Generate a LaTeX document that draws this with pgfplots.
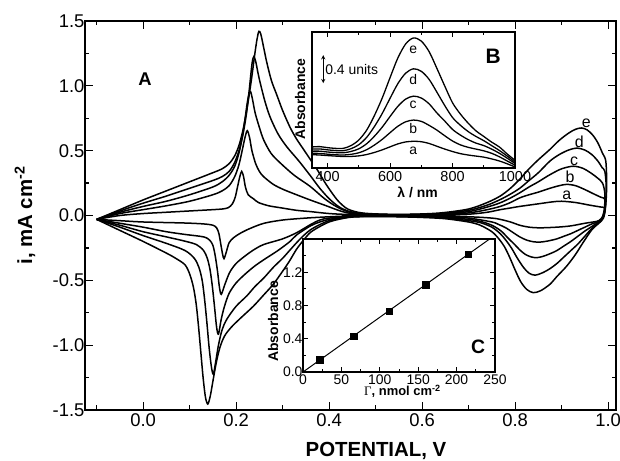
\documentclass[border=0pt]{standalone}
\usepackage{fontspec}
\setmainfont{Liberation Sans}
\newfontfamily\serifgreek{Liberation Serif}
\usepackage{pgfplots}
\usepackage{pgfplotstable}
\pgfplotsset{compat=1.18}
\pgfplotsset{
  cv/.style={black, line width=1.5bp, smooth, tension=0.5, mark=none},
  spec/.style={black, line width=1.3bp, smooth, mark=none},
}

% inset B: absorbance spectra
\pgfplotstableread{
lam e d c b a
350 0.300 0.270 0.240 0.210 0.190
375 0.305 0.272 0.240 0.207 0.185
400 0.290 0.259 0.228 0.197 0.177
425 0.280 0.249 0.220 0.189 0.170
450 0.280 0.247 0.217 0.185 0.164
475 0.320 0.275 0.236 0.195 0.165
500 0.400 0.333 0.274 0.217 0.173
525 0.540 0.437 0.346 0.261 0.192
550 0.750 0.593 0.454 0.328 0.222
575 1.000 0.779 0.584 0.409 0.259
600 1.290 0.995 0.735 0.504 0.302
625 1.570 1.204 0.880 0.596 0.344
650 1.770 1.353 0.983 0.659 0.372
675 1.855 1.415 1.025 0.684 0.381
700 1.810 1.379 0.998 0.665 0.375
725 1.660 1.264 0.915 0.608 0.350
750 1.420 1.081 0.785 0.540 0.310
775 1.170 0.891 0.670 0.460 0.270
800 0.930 0.720 0.550 0.385 0.235
825 0.770 0.610 0.470 0.330 0.205
850 0.640 0.520 0.405 0.295 0.185
875 0.530 0.450 0.355 0.270 0.170
900 0.450 0.390 0.320 0.245 0.155
925 0.370 0.320 0.270 0.210 0.130
950 0.300 0.250 0.210 0.160 0.100
975 0.200 0.170 0.140 0.100 0.060
1000 0.110 0.085 0.065 0.040 0.015
}\spectra

\begin{document}
\begin{tikzpicture}
\useasboundingbox (-85bp,-51bp) rectangle (535bp,410bp);

% main axis: cyclic voltammograms
\begin{axis}[
  at={(0bp,0bp)}, anchor=south west,
  scale only axis, width=531bp, height=389bp,
  xmin=-0.125, xmax=1.017, ymin=-1.5, ymax=1.5,
  xtick={0,0.2,0.4,0.6,0.8,1.0}, minor xtick={-0.1,0.1,0.3,0.5,0.7,0.9},
  ytick={-1.5,-1,-0.5,0,0.5,1,1.5}, minor ytick={-1.25,-0.75,-0.25,0.25,0.75,1.25},
  tick align=inside, major tick length=8bp, minor tick length=4.5bp,
  every tick/.style={black, line width=1.2bp},
  axis line style={line width=1.7bp},
  tick label style={font=\fontsize{18.5}{20}\selectfont},
  yticklabel style={xshift=3bp},
  /pgf/number format/fixed, /pgf/number format/fixed zerofill,
  /pgf/number format/precision=1, /pgf/number format/assume math mode=true,
  clip mode=individual,
]
% e
\addplot[cv] coordinates {
(-0.1,-0.03) (-0.05,0.045) (0,0.12) (0.05,0.19) (0.1,0.26) (0.15,0.33) (0.17,0.36)
(0.185,0.40) (0.197,0.46) (0.207,0.55) (0.216,0.68) (0.225,0.86) (0.233,1.05) (0.24,1.24)
(0.245,1.36) (0.249,1.42) (0.253,1.40) (0.259,1.30) (0.266,1.18) (0.276,1.04) (0.2875,0.93)
(0.30,0.81) (0.316,0.68) (0.33,0.59) (0.345,0.51) (0.36,0.43) (0.375,0.35) (0.39,0.26)
(0.405,0.18) (0.42,0.11) (0.44,0.05) (0.47,0.02) (0.52,0.01) (0.58,0.01) (0.64,0.02)
(0.70,0.05) (0.74,0.10) (0.768,0.15) (0.79,0.21) (0.81,0.28) (0.83,0.36) (0.85,0.43)
(0.875,0.51) (0.895,0.58) (0.915,0.635) (0.93,0.665) (0.943,0.675) (0.955,0.66) (0.967,0.62)
(0.978,0.56) (0.988,0.48) (0.995,0.42) (0.997,0.25) (0.995,0.08) (0.99,-0.02) (0.98,-0.06)
(0.965,-0.11) (0.946,-0.21) (0.93,-0.30) (0.911,-0.39) (0.89,-0.47) (0.875,-0.53) (0.855,-0.58)
(0.839,-0.595) (0.825,-0.57) (0.812,-0.51) (0.80,-0.42) (0.788,-0.32) (0.777,-0.24) (0.765,-0.18)
(0.75,-0.125) (0.725,-0.075) (0.70,-0.05) (0.65,-0.025) (0.60,-0.015) (0.55,-0.01) (0.50,-0.008)
(0.45,-0.012) (0.42,-0.03) (0.40,-0.05) (0.38,-0.085) (0.36,-0.13) (0.345,-0.19) (0.33,-0.26)
(0.315,-0.35) (0.30,-0.43) (0.28,-0.53) (0.26,-0.61) (0.237,-0.70) (0.21,-0.79) (0.19,-0.86)
(0.175,-0.93) (0.165,-1.02) (0.157,-1.14) (0.15,-1.28) (0.144,-1.40) (0.139,-1.454) (0.134,-1.40)
(0.129,-1.25) (0.124,-1.05) (0.119,-0.85) (0.114,-0.68) (0.108,-0.55) (0.10,-0.45) (0.09,-0.38)
(0.07,-0.33) (0.05,-0.29) (0,-0.20) (-0.05,-0.115) (-0.1,-0.03)};
% d
\addplot[cv] coordinates {
(-0.1,-0.03) (-0.05,0.035) (0,0.095) (0.05,0.15) (0.1,0.21) (0.15,0.27) (0.17,0.30)
(0.185,0.34) (0.197,0.41) (0.207,0.51) (0.215,0.63) (0.222,0.78) (0.228,0.96) (0.232,1.10)
(0.235,1.19) (0.238,1.225) (0.242,1.19) (0.247,1.10) (0.252,1.02) (0.262,0.88) (0.273,0.76)
(0.29,0.63) (0.309,0.53) (0.335,0.42) (0.359,0.31) (0.38,0.21) (0.40,0.13) (0.42,0.07)
(0.44,0.035) (0.47,0.015) (0.52,0.008) (0.58,0.008) (0.64,0.015) (0.70,0.04) (0.74,0.08)
(0.768,0.123) (0.79,0.165) (0.81,0.21) (0.83,0.27) (0.85,0.33) (0.875,0.42) (0.895,0.47)
(0.915,0.505) (0.933,0.52) (0.95,0.505) (0.965,0.47) (0.978,0.42) (0.987,0.37) (0.993,0.34)
(0.996,0.22) (0.994,0.07) (0.989,-0.02) (0.978,-0.06)
(0.965,-0.10) (0.95,-0.16) (0.935,-0.22) (0.92,-0.27) (0.905,-0.32) (0.89,-0.37) (0.875,-0.41)
(0.86,-0.44) (0.843,-0.46) (0.83,-0.445) (0.818,-0.40) (0.805,-0.33) (0.792,-0.25) (0.78,-0.19)
(0.768,-0.14) (0.75,-0.09) (0.725,-0.055) (0.70,-0.04) (0.65,-0.02) (0.60,-0.01) (0.55,-0.008)
(0.50,-0.006) (0.45,-0.01) (0.42,-0.025) (0.40,-0.04) (0.38,-0.07) (0.36,-0.11) (0.345,-0.155)
(0.33,-0.21) (0.315,-0.27) (0.30,-0.33) (0.28,-0.40) (0.26,-0.48) (0.24,-0.55) (0.223,-0.62)
(0.20,-0.70) (0.18,-0.80) (0.17,-0.88) (0.162,-1.0) (0.156,-1.13) (0.151,-1.223) (0.147,-1.17)
(0.142,-1.02) (0.137,-0.82) (0.132,-0.64) (0.127,-0.50) (0.12,-0.40) (0.11,-0.33) (0.09,-0.27)
(0.05,-0.215) (0,-0.155) (-0.05,-0.09) (-0.1,-0.03)};
% c
\addplot[cv] coordinates {
(-0.1,-0.03) (-0.05,0.025) (0,0.07) (0.05,0.11) (0.1,0.16) (0.15,0.22) (0.17,0.26)
(0.185,0.31) (0.197,0.38) (0.206,0.48) (0.213,0.60) (0.219,0.74) (0.224,0.87) (0.228,0.94)
(0.231,0.956) (0.235,0.90) (0.241,0.79) (0.25,0.68) (0.259,0.585) (0.275,0.48) (0.295,0.405)
(0.325,0.31) (0.359,0.225) (0.39,0.13) (0.415,0.07) (0.44,0.03) (0.47,0.012) (0.52,0.006)
(0.58,0.006) (0.64,0.012) (0.70,0.03) (0.74,0.065) (0.768,0.098) (0.79,0.135) (0.81,0.175)
(0.83,0.22) (0.85,0.26) (0.875,0.315) (0.90,0.36) (0.925,0.38) (0.945,0.365) (0.962,0.33)
(0.977,0.29) (0.988,0.25) (0.993,0.17) (0.992,0.05) (0.987,-0.02) (0.977,-0.055)
(0.965,-0.085) (0.95,-0.12) (0.935,-0.16) (0.92,-0.20) (0.905,-0.235) (0.89,-0.27) (0.875,-0.295)
(0.86,-0.315) (0.847,-0.325) (0.835,-0.32) (0.822,-0.30) (0.81,-0.265) (0.798,-0.22) (0.785,-0.175)
(0.77,-0.12) (0.75,-0.075) (0.725,-0.045) (0.70,-0.03) (0.65,-0.015) (0.60,-0.008) (0.55,-0.006)
(0.50,-0.005) (0.45,-0.008) (0.42,-0.02) (0.40,-0.03) (0.38,-0.05) (0.36,-0.08) (0.33,-0.15)
(0.316,-0.20) (0.29,-0.27) (0.26,-0.34) (0.24,-0.39) (0.22,-0.45) (0.20,-0.52) (0.185,-0.60)
(0.175,-0.70) (0.168,-0.80) (0.162,-0.915) (0.158,-0.86) (0.154,-0.72) (0.149,-0.55) (0.144,-0.42)
(0.138,-0.33) (0.13,-0.27) (0.115,-0.225) (0.09,-0.198) (0.05,-0.165) (0,-0.125) (-0.05,-0.075)
(-0.1,-0.03)};
% b
\addplot[cv] coordinates {
(-0.1,-0.03) (-0.05,0.015) (0,0.045) (0.05,0.075) (0.1,0.11) (0.15,0.16) (0.17,0.19)
(0.185,0.23) (0.197,0.30) (0.206,0.39) (0.213,0.50) (0.219,0.60) (0.224,0.654) (0.229,0.60)
(0.234,0.50) (0.242,0.40) (0.25,0.34) (0.259,0.30) (0.28,0.24) (0.302,0.20) (0.33,0.16)
(0.359,0.12) (0.39,0.08) (0.42,0.04) (0.44,0.02) (0.47,0.008) (0.52,0.004) (0.58,0.004)
(0.64,0.008) (0.70,0.02) (0.74,0.045) (0.768,0.07) (0.79,0.10) (0.81,0.136) (0.83,0.16)
(0.85,0.18) (0.875,0.21) (0.895,0.23) (0.911,0.24) (0.93,0.23) (0.95,0.20) (0.97,0.165)
(0.985,0.14) (0.992,0.13) (0.994,0.08) (0.99,0.01) (0.985,-0.025) (0.976,-0.05)
(0.965,-0.065) (0.95,-0.09) (0.935,-0.115) (0.92,-0.14) (0.905,-0.16) (0.89,-0.18) (0.87,-0.197)
(0.854,-0.205) (0.84,-0.203) (0.825,-0.19) (0.81,-0.165) (0.795,-0.13) (0.78,-0.095) (0.765,-0.07)
(0.75,-0.05) (0.70,-0.02) (0.65,-0.01) (0.60,-0.005) (0.50,-0.004) (0.45,-0.006) (0.40,-0.02)
(0.38,-0.035) (0.36,-0.07) (0.33,-0.133) (0.30,-0.18) (0.26,-0.223) (0.24,-0.26) (0.22,-0.31)
(0.20,-0.37) (0.186,-0.44) (0.176,-0.53) (0.168,-0.608) (0.164,-0.55) (0.16,-0.43) (0.155,-0.31)
(0.15,-0.23) (0.143,-0.19) (0.13,-0.165) (0.09,-0.146) (0.05,-0.125) (0,-0.09) (-0.05,-0.06)
(-0.1,-0.03)};
% a
\addplot[cv] coordinates {
(-0.1,-0.03) (-0.05,0.0) (0,0.015) (0.05,0.025) (0.1,0.035) (0.15,0.045) (0.17,0.05)
(0.183,0.06) (0.192,0.09) (0.198,0.14) (0.203,0.22) (0.208,0.30) (0.212,0.34) (0.216,0.30)
(0.22,0.22) (0.226,0.16) (0.237,0.13) (0.248,0.10) (0.27,0.075) (0.295,0.06) (0.33,0.04)
(0.36,0.03) (0.40,0.015) (0.44,0.008) (0.50,0.003) (0.58,0.003) (0.64,0.005) (0.70,0.01)
(0.74,0.025) (0.768,0.045) (0.79,0.058) (0.81,0.07) (0.85,0.09) (0.88,0.105) (0.90,0.11)
(0.93,0.10) (0.96,0.08) (0.985,0.065) (0.992,0.06) (0.993,0.03) (0.99,-0.01) (0.985,-0.03)
(0.976,-0.045) (0.95,-0.06) (0.92,-0.08) (0.89,-0.09) (0.854,-0.095) (0.83,-0.09) (0.81,-0.075)
(0.79,-0.05) (0.768,-0.03) (0.75,-0.02) (0.70,-0.01) (0.60,-0.004) (0.50,-0.003) (0.45,-0.003)
(0.40,-0.01) (0.35,-0.02) (0.30,-0.035) (0.26,-0.06) (0.23,-0.10) (0.21,-0.135) (0.195,-0.17)
(0.185,-0.21) (0.179,-0.28) (0.174,-0.333) (0.171,-0.30) (0.167,-0.22) (0.163,-0.14) (0.158,-0.095)
(0.15,-0.075) (0.13,-0.065) (0.09,-0.058) (0,-0.05) (-0.05,-0.04) (-0.1,-0.03)};

\node[font=\bfseries\fontsize{18.5}{20}\selectfont] at (axis cs:0.004,1.05) {A};
\begin{scope}[every node/.style={font=\fontsize{16}{18}\selectfont}]
\node at (axis cs:0.953,0.713) {e};
\node at (axis cs:0.938,0.572) {d};
\node at (axis cs:0.927,0.418) {c};
\node at (axis cs:0.918,0.297) {b};
\node at (axis cs:0.911,0.154) {a};
\end{scope}
\node[font=\bfseries\fontsize{20.5}{22}\selectfont, anchor=base] at (axis description cs:0.548,-0.12) {POTENTIAL, V};
\node[font=\bfseries\fontsize{20.5}{22}\selectfont, rotate=90] at (axis description cs:-0.113,0.5) {i, mA cm\textsuperscript{-2}};
\end{axis}

% inset B
\begin{axis}[
  at={(227bp,242bp)}, anchor=south west,
  scale only axis, width=203bp, height=136bp,
  xmin=350, xmax=1000, ymin=0, ymax=1.94,
  xtick={400,600,800,1000}, minor xtick={500,700,900}, ytick=\empty,
  tick align=inside, major tick length=5bp, minor tick length=3bp,
  every tick/.style={black, line width=1bp},
  axis line style={line width=1.3bp},
  axis background/.style={fill=white},
  tick label style={font=\fontsize{14.5}{16}\selectfont},
  /pgf/number format/1000 sep={}, /pgf/number format/assume math mode=true,
  clip mode=individual,
]
\addplot[spec] table[x=lam, y=e] {\spectra};
\addplot[spec] table[x=lam, y=d] {\spectra};
\addplot[spec] table[x=lam, y=c] {\spectra};
\addplot[spec] table[x=lam, y=b] {\spectra};
\addplot[spec] table[x=lam, y=a] {\spectra};
\begin{scope}[every node/.style={font=\fontsize{14}{16}\selectfont}]
\node at (axis cs:674,1.683) {e};
\node at (axis cs:674,1.265) {d};
\node at (axis cs:674,0.899) {c};
\node at (axis cs:674,0.566) {b};
\node at (axis cs:674,0.247) {a};
\node[anchor=west, inner sep=0pt] at (axis cs:392,1.41) {0.4 units};
\end{scope}
\draw[<->, >=stealth, line width=0.9bp] (axis cs:386,1.21) -- (axis cs:386,1.61);
\node[font=\bfseries\fontsize{21}{23}\selectfont] at (axis cs:930,1.587) {B};
\node[font=\bfseries\fontsize{14}{16}\selectfont, anchor=base] at (axis description cs:0.52,-0.218) {λ / nm};
\node[font=\bfseries\fontsize{14}{16}\selectfont, rotate=90] at (axis description cs:-0.059,0.507) {Absorbance};
\end{axis}

% inset C
\begin{axis}[
  at={(218bp,38bp)}, anchor=south west,
  scale only axis, width=192bp, height=133bp,
  xmin=0, xmax=250, ymin=0, ymax=1.6,
  xtick={0,50,100,150,200,250}, minor xtick={25,75,125,175,225},
  ytick={0,0.4,0.8,1.2}, minor ytick={0.2,0.6,1.0,1.4},
  tick align=inside, major tick length=5bp, minor tick length=3bp,
  every tick/.style={black, line width=1bp},
  axis line style={line width=1.3bp},
  axis background/.style={fill=white},
  tick label style={font=\fontsize{14}{16}\selectfont},
  xticklabel style={yshift=1bp},
  yticklabel style={xshift=3bp, /pgf/number format/fixed, /pgf/number format/fixed zerofill, /pgf/number format/precision=1},
  /pgf/number format/assume math mode=true,
  clip mode=individual,
]
\addplot[black, line width=1bp, mark=none] coordinates {(0,0) (243,1.6)};
\addplot[black, only marks, mark=square*, mark size=3.2bp] coordinates {
(22,0.15) (66,0.43) (112,0.73) (160,1.05) (215,1.42)};
\node[font=\bfseries\fontsize{19.5}{21}\selectfont] at (axis cs:228,0.304) {C};
\node[font=\fontsize{13}{15}\selectfont, anchor=base] at (axis description cs:0.518,-0.18) {{\serifgreek Γ}\textbf{, nmol cm\textsuperscript{-2}}};
\node[font=\bfseries\fontsize{14}{16}\selectfont, rotate=90] at (axis description cs:-0.156,0.38) {Absorbance};
\end{axis}
\end{tikzpicture}
\end{document}
